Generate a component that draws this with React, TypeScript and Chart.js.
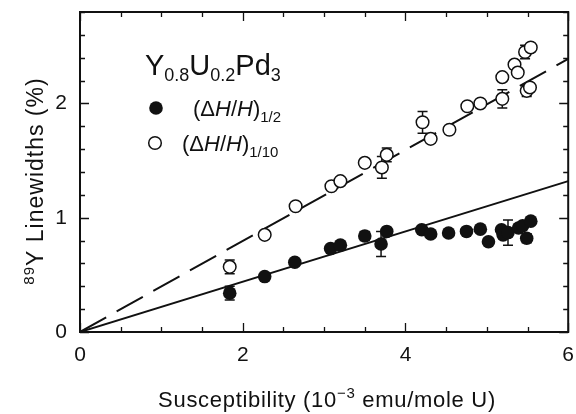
import React, { useEffect, useRef } from 'react';
import { Chart, registerables } from 'chart.js';
Chart.register(...registerables);

// (ΔH/H)1/2 — filled circles
const halfX = [1.84, 2.27, 2.64, 3.08, 3.20, 3.50, 3.70, 3.77, 4.20, 4.31, 4.53, 4.75, 4.92, 5.02, 5.18, 5.20, 5.26, 5.39, 5.44, 5.49, 5.54];
const halfY = [0.34, 0.485, 0.61, 0.73, 0.76, 0.84, 0.77, 0.88, 0.895, 0.857, 0.866, 0.88, 0.90, 0.79, 0.895, 0.85, 0.87, 0.91, 0.93, 0.82, 0.97];
const halfErr = [0.06, 0, 0, 0, 0.03, 0.04, 0.11, 0, 0, 0, 0, 0, 0, 0, 0, 0, 0.11, 0, 0, 0.04, 0];

// (ΔH/H)1/10 — open circles
const tenthX = [1.84, 2.27, 2.65, 3.09, 3.20, 3.50, 3.71, 3.77, 4.21, 4.31, 4.54, 4.76, 4.92, 5.19, 5.19, 5.34, 5.38, 5.47, 5.54, 5.49, 5.53];
const tenthY = [0.57, 0.85, 1.10, 1.275, 1.32, 1.48, 1.44, 1.55, 1.835, 1.69, 1.77, 1.975, 2.00, 2.23, 2.04, 2.34, 2.27, 2.45, 2.49, 2.11, 2.14];
const tenthErr = [0.06, 0, 0, 0, 0.03, 0.03, 0.095, 0.06, 0.095, 0.03, 0, 0, 0, 0, 0.08, 0, 0, 0.06, 0, 0.05, 0];

// fit lines (endpoints)
const solidFitX = [0, 6];
const solidFitY = [0, 1.32];
const dashedFitX = [0, 6];
const dashedFitY = [0, 2.39];

const xMajorTicks = [0, 2, 4, 6];
const yMajorTicks = [0, 1, 2];
const xMinorStep = 0.5;
const yMinorStep = 0.2;

const INK = '#111';
const FONT = '"Liberation Sans", Arial, Helvetica, sans-serif';

type Run = { t: string; size: number; dy?: number; italic?: boolean };

function runsWidth(ctx: CanvasRenderingContext2D, runs: Run[]) {
  let w = 0;
  for (const r of runs) {
    ctx.font = `${r.italic ? 'italic ' : ''}${r.size}px ${FONT}`;
    w += ctx.measureText(r.t).width;
  }
  return w;
}

function drawRuns(ctx: CanvasRenderingContext2D, runs: Run[], x: number, y: number) {
  let cx = x;
  for (const r of runs) {
    ctx.font = `${r.italic ? 'italic ' : ''}${r.size}px ${FONT}`;
    ctx.fillText(r.t, cx, y + (r.dy || 0));
    cx += ctx.measureText(r.t).width;
  }
  return cx;
}

const decorPlugin = {
  id: 'decor',
  beforeDatasetsDraw(chart: any) {
    const ctx = chart.ctx;
    const xs = chart.scales.x;
    const ys = chart.scales.y;
    ctx.save();
    ctx.strokeStyle = INK;
    ctx.lineWidth = 1.5;
    const bars = (X: number[], Y: number[], E: number[]) => {
      for (let i = 0; i < X.length; i++) {
        if (!E[i]) continue;
        const px = xs.getPixelForValue(X[i]);
        const p1 = ys.getPixelForValue(Y[i] + E[i]);
        const p2 = ys.getPixelForValue(Y[i] - E[i]);
        ctx.beginPath();
        ctx.moveTo(px, p1); ctx.lineTo(px, p2);
        ctx.moveTo(px - 5, p1); ctx.lineTo(px + 5, p1);
        ctx.moveTo(px - 5, p2); ctx.lineTo(px + 5, p2);
        ctx.stroke();
      }
    };
    bars(halfX, halfY, halfErr);
    bars(tenthX, tenthY, tenthErr);
    ctx.restore();
  },
  afterDraw(chart: any) {
    const ctx = chart.ctx;
    const a = chart.chartArea;
    const xs = chart.scales.x;
    const ys = chart.scales.y;
    ctx.save();
    ctx.strokeStyle = INK;
    ctx.fillStyle = INK;
    ctx.lineWidth = 2;
    ctx.strokeRect(a.left, a.top, a.right - a.left, a.bottom - a.top);

    ctx.lineWidth = 1.3;
    ctx.beginPath();
    for (let v = 0; v <= 6.0001; v += xMinorStep) {
      const major = xMajorTicks.some((m) => Math.abs(m - v) < 1e-6);
      const len = major ? 9 : 5;
      const px = Math.round(xs.getPixelForValue(v)) + 0.5;
      ctx.moveTo(px, a.bottom); ctx.lineTo(px, a.bottom - len);
      ctx.moveTo(px, a.top); ctx.lineTo(px, a.top + len);
    }
    for (let v = 0; v <= 2.8001; v += yMinorStep) {
      const major = yMajorTicks.some((m) => Math.abs(m - v) < 1e-6);
      const len = major ? 9 : 5;
      const py = Math.round(ys.getPixelForValue(v)) + 0.5;
      ctx.moveTo(a.left, py); ctx.lineTo(a.left + len, py);
      ctx.moveTo(a.right, py); ctx.lineTo(a.right - len, py);
    }
    ctx.stroke();

    // Legend
    ctx.textBaseline = 'alphabetic';
    ctx.textAlign = 'left';
    drawRuns(ctx, [
      { t: 'Y', size: 29 }, { t: '0.8', size: 18, dy: 6 },
      { t: 'U', size: 29 }, { t: '0.2', size: 18, dy: 6 },
      { t: 'Pd', size: 29 }, { t: '3', size: 18, dy: 6 },
    ], 145, 75);

    ctx.beginPath();
    ctx.arc(156, 108, 6.8, 0, Math.PI * 2);
    ctx.fill();
    drawRuns(ctx, [
      { t: '(Δ', size: 22 }, { t: 'H', size: 22, italic: true }, { t: '/', size: 22 },
      { t: 'H', size: 22, italic: true }, { t: ')', size: 22 }, { t: '1/2', size: 15, dy: 6 },
    ], 193, 116);

    ctx.beginPath();
    ctx.arc(155, 143, 6.3, 0, Math.PI * 2);
    ctx.fillStyle = '#fff';
    ctx.fill();
    ctx.lineWidth = 1.5;
    ctx.stroke();
    ctx.fillStyle = INK;
    drawRuns(ctx, [
      { t: '(Δ', size: 22 }, { t: 'H', size: 22, italic: true }, { t: '/', size: 22 },
      { t: 'H', size: 22, italic: true }, { t: ')', size: 22 }, { t: '1/10', size: 15, dy: 6 },
    ], 182, 151);

    // X title
    (ctx as any).letterSpacing = '0.7px';
    const xt: Run[] = [
      { t: 'Susceptibility (10', size: 22 }, { t: '−3', size: 15, dy: -9 },
      { t: ' emu/mole U)', size: 22 },
    ];
    const xw = runsWidth(ctx, xt);
    drawRuns(ctx, xt, 327 - xw / 2, 407);

    // Y title
    (ctx as any).letterSpacing = '1px';
    const yt: Run[] = [
      { t: '89', size: 15, dy: -9 }, { t: 'Y Linewidths (%)', size: 23 },
    ];
    const yw = runsWidth(ctx, yt);
    ctx.translate(43, 181);
    ctx.rotate(-Math.PI / 2);
    drawRuns(ctx, yt, -yw / 2, 0);
    ctx.restore();
  },
};

export default function App() {
  const ref = useRef<HTMLCanvasElement | null>(null);
  useEffect(() => {
    if (!ref.current) return;
    const pts = (X: number[], Y: number[]) => X.map((x, i) => ({ x, y: Y[i] }));
    const chart = new Chart(ref.current, {
      type: 'scatter',
      data: {
        datasets: [
          {
            label: 'solid fit',
            data: pts(solidFitX, solidFitY),
            showLine: true,
            borderColor: INK,
            borderWidth: 2,
            pointRadius: 0,
            order: 4,
          } as any,
          {
            label: 'dashed fit',
            data: pts(dashedFitX, dashedFitY),
            showLine: true,
            borderColor: INK,
            borderWidth: 2,
            borderDash: [30, 12],
            pointRadius: 0,
            order: 3,
          } as any,
          {
            label: '(ΔH/H)1/2',
            data: pts(halfX, halfY),
            pointRadius: 6.8,
            pointBackgroundColor: INK,
            pointBorderColor: INK,
            pointBorderWidth: 0,
            order: 2,
          },
          {
            label: '(ΔH/H)1/10',
            data: pts(tenthX, tenthY),
            pointRadius: 6.3,
            pointBackgroundColor: '#fff',
            pointBorderColor: INK,
            pointBorderWidth: 1.5,
            order: 1,
          },
        ],
      },
      options: {
        animation: false,
        responsive: false,
        devicePixelRatio: 1,
        layout: { padding: { left: 0, top: 12, right: 6, bottom: 0 } },
        plugins: { legend: { display: false }, tooltip: { enabled: false } },
        scales: {
          x: {
            type: 'linear',
            min: 0,
            max: 6,
            grid: { display: false, drawTicks: false },
            border: { display: false },
            ticks: {
              stepSize: 2,
              padding: 11,
              color: INK,
              font: { size: 21, family: FONT },
              maxRotation: 0,
            },
            afterFit: (s: any) => { s.height = 82; s.paddingLeft = 0; s.paddingRight = 0; },
          },
          y: {
            type: 'linear',
            min: 0,
            max: 2.8,
            grid: { display: false, drawTicks: false },
            border: { display: false },
            ticks: {
              stepSize: 1,
              includeBounds: false,
              padding: 13,
              color: INK,
              font: { size: 21, family: FONT },
              callback: (v: any) => (Number.isInteger(v) ? String(v) : ''),
            },
            afterFit: (s: any) => { s.width = 80; s.paddingTop = 0; s.paddingBottom = 0; },
          },
        },
      },
      plugins: [decorPlugin],
    });
    return () => chart.destroy();
  }, []);
  return (
    <div style={{ position: 'absolute', left: 0, top: 0, width: 576, height: 414, background: '#fff' }}>
      <canvas ref={ref} width={576} height={414} style={{ display: 'block' }} />
    </div>
  );
}
